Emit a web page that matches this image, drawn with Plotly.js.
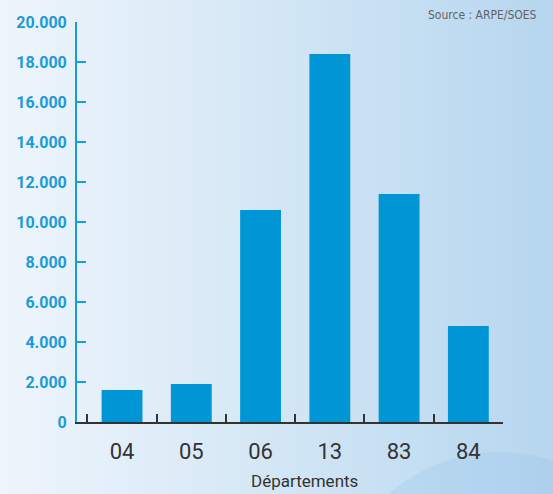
<!DOCTYPE html>
<html>
<head>
<meta charset="utf-8">
<script src="https://cdn.plot.ly/plotly-3.0.1.min.js"></script>
<style>
  html, body { margin: 0; padding: 0; }
  body { width: 553px; height: 494px; overflow: hidden;
         background: linear-gradient(to right, #eef5fc 0%, #d6e8f6 45%, #b6d6ef 100%); }
  #chart { width: 553px; height: 494px; }
</style>
</head>
<body>
<div id="chart"></div>
<script>
const departements = ['04', '05', '06', '13', '83', '84'];
const valeurs = [1600, 1900, 10600, 18400, 11400, 4800];
const yTicks = [0, 2000, 4000, 6000, 8000, 10000, 12000, 14000, 16000, 18000, 20000];
const axisTitle = 'Départements';
const sourceText = 'Source : ARPE/SOES';

const blue = '#1a9ad7';

const trace = {
  type: 'bar',
  x: departements,
  y: valeurs,
  width: 0.59,
  marker: { color: '#0096d6', line: { width: 0 } },
  hoverinfo: 'x+y'
};

const layout = {
  width: 553,
  height: 494,
  margin: { l: 77, r: 50, t: 22, b: 72 },
  paper_bgcolor: 'rgba(0,0,0,0)',
  plot_bgcolor: 'rgba(0,0,0,0)',
  separators: ',.',
  showlegend: false,
  font: { family: 'Roboto, "DejaVu Sans", sans-serif' },
  xaxis: {
    type: 'category',
    range: [-0.65, 5.5],
    showline: true,
    linecolor: '#333333',
    linewidth: 2,
    ticks: 'inside',
    tickson: 'boundaries',
    ticklen: 8,
    tickwidth: 2,
    tickcolor: '#333333',
    showgrid: false,
    zeroline: false,
    tickfont: { family: 'Roboto, sans-serif', size: 22, color: '#333333' },
    ticklabelstandoff: 9,
    fixedrange: true
  },
  yaxis: {
    range: [0, 20000],
    tickvals: yTicks,
    tickformat: ',d',
    showline: true,
    linecolor: blue,
    linewidth: 2,
    ticks: 'inside',
    ticklen: 9,
    tickwidth: 2,
    tickcolor: blue,
    showgrid: false,
    zeroline: false,
    tickfont: { family: 'Roboto, sans-serif', size: 16, color: blue, weight: 'bold' },
    ticklabelstandoff: 5,
    fixedrange: true
  },
  shapes: [{
    type: 'circle',
    xref: 'paper', yref: 'paper',
    x0: 0.5986, x1: 1.387, y0: -0.915, y1: -0.075,
    fillcolor: 'rgba(140,190,232,0.22)',
    line: { width: 0 },
    layer: 'below'
  }],
  annotations: [
    {
      text: axisTitle,
      xref: 'paper', yref: 'paper',
      x: 0.534, y: -0.148,
      xanchor: 'center', yanchor: 'middle',
      showarrow: false,
      font: { family: 'Roboto, sans-serif', size: 17, color: '#333333' }
    },
    {
      text: sourceText,
      xref: 'paper', yref: 'paper',
      x: 1.0845, y: 1.0175,
      xanchor: 'right', yanchor: 'middle',
      showarrow: false,
      font: { family: '"DejaVu Sans Condensed", "Liberation Sans", Arial, sans-serif', size: 12, color: '#5f6468', stretch: 'condensed' }
    }
  ]
};

Plotly.newPlot('chart', [trace], layout, { displayModeBar: false, staticPlot: true });
</script>
</body>
</html>
